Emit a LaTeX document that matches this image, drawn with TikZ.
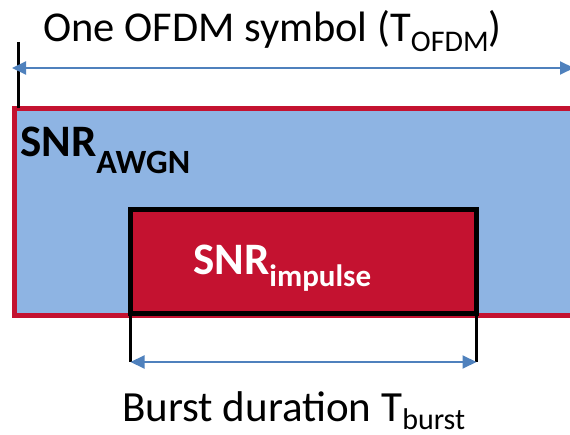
\documentclass[tikz,border=0pt]{standalone}
\usepackage{fontspec}
\setmainfont{Carlito}
\usetikzlibrary{arrows.meta}
\definecolor{awgnblue}{RGB}{142,180,227}
\definecolor{burstred}{RGB}{196,18,48}
\definecolor{dimblue}{RGB}{79,129,189}
\newcommand{\lowsub}[3]{\raisebox{-#1pt}{\fontsize{#2}{#2}\selectfont #3}}
\tikzset{
  dimarrow/.style={{Triangle[length=14pt,width=13pt]}-{Triangle[length=14pt,width=13pt]},dimblue,line width=2pt},
  ticks/.style={black,line width=3pt},
  txt/.style={inner sep=0pt,anchor=base west}
}
\begin{document}
\begin{tikzpicture}[x=1pt,y=-1pt]
  \useasboundingbox (0,0) rectangle (570,435);
  \clip (0,0) rectangle (570,435);
  % the symbol and the burst inside it
  \node[draw=burstred,fill=awgnblue,line width=4.5pt,inner sep=0pt,outer sep=0pt,anchor=north west,
        minimum width=570pt,minimum height=207pt] (symbol) at (14.5,108.5) {};
  \node[draw=black,fill=burstred,line width=5pt,inner sep=0pt,outer sep=0pt,anchor=north west,
        minimum width=346pt,minimum height=104pt] (burst) at (130.5,209.5) {};
  % symbol duration
  \coordinate (tl) at (18,42);
  \coordinate (al) at (12,68);
  \coordinate (ar) at (574,68);
  \draw[ticks] (tl) -- (tl |- symbol.north);
  \draw[dimarrow] (al) -- (ar);
  % burst duration
  \coordinate (bl) at (130.5,362);
  \coordinate (br) at (476.5,362);
  \draw[ticks] (burst.south west) -- (bl);
  \draw[ticks] (burst.south east) -- (br);
  \draw[dimarrow] (bl) -- (br);
  % labels
  \node[txt] (ofdmlabel) at (43,42) {\fontsize{42.5}{42.5}\selectfont One OFDM symbol (T\lowsub{10}{30}{OFDM})};
  \node[txt] (awgnlabel) at (20,157) {\fontsize{45}{45}\selectfont\bfseries SNR\lowsub{17}{34}{AWGN}};
  \node[txt,text=white] (implabel) at (193,275) {\fontsize{45}{45}\selectfont\bfseries SNR\lowsub{12}{31}{impulse}};
  \node[txt] (burstlabel) at (122,421) {\fontsize{43}{43}\selectfont Burst duration T\lowsub{8}{30}{burst}};
\end{tikzpicture}
\end{document}
